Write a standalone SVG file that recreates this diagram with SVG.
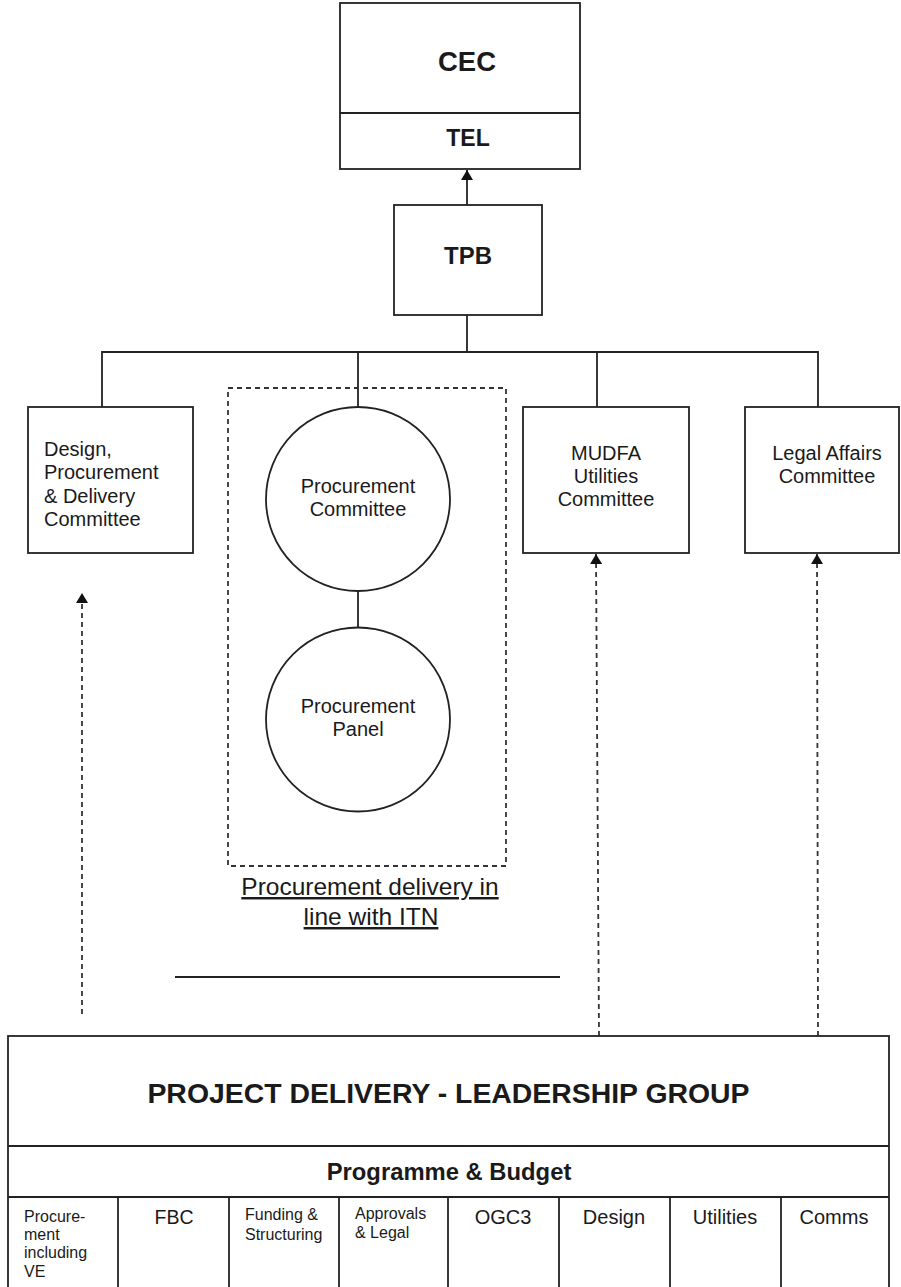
<svg xmlns="http://www.w3.org/2000/svg" width="901" height="1287" viewBox="0 0 901 1287">
<style>
.box{fill:#fff;stroke:#222;stroke-width:1.8}
.ln{stroke:#222;stroke-width:1.8;fill:none}
.dash{stroke:#333;stroke-width:1.8;fill:none;stroke-dasharray:5 4}
.t{font-family:"Liberation Sans",Arial,sans-serif;fill:#1a1a1a}
.b{font-weight:bold}
.c{text-anchor:middle}
</style>
<defs>
<marker id="ah" viewBox="0 0 10 12" refX="10" refY="6" markerWidth="10" markerHeight="12" markerUnits="userSpaceOnUse" orient="auto">
<path d="M0,0 L10,6 L0,12 Z" fill="#111"/>
</marker>
</defs>
<rect width="901" height="1287" fill="#fff"/>

<g id="connectors">
<line class="ln" x1="467" y1="315" x2="467" y2="170" marker-end="url(#ah)"/>
<line class="ln" x1="467" y1="315" x2="467" y2="352"/>
<polyline class="ln" points="102,407 102,352 818,352 818,407"/>
<line class="ln" x1="358" y1="352" x2="358" y2="407"/>
<line class="ln" x1="597" y1="352" x2="597" y2="407"/>
<line class="ln" x1="358" y1="591" x2="358" y2="627"/>
<line class="dash" x1="82" y1="1014" x2="82" y2="593" marker-end="url(#ah)"/>
<line class="dash" x1="599" y1="1036" x2="596" y2="554" marker-end="url(#ah)"/>
<line class="dash" x1="818" y1="1036" x2="817" y2="554" marker-end="url(#ah)"/>
<line class="ln" x1="175" y1="977" x2="560" y2="977"/>
</g>

<g id="cec-tel">
<rect class="box" x="340" y="3" width="240" height="166"/>
<line class="ln" x1="340" y1="113" x2="580" y2="113"/>
<text class="t b c" x="467" y="71" font-size="27.5">CEC</text>
<text class="t b c" x="468" y="146" font-size="23">TEL</text>
</g>

<g id="tpb">
<rect class="box" x="394" y="205" width="148" height="110"/>
<text class="t b c" x="468" y="264" font-size="24">TPB</text>
</g>

<g id="design-committee">
<rect class="box" x="28" y="407" width="165" height="146"/>
<text class="t" x="44" y="456" font-size="20">Design,</text>
<text class="t" x="44" y="479" font-size="20">Procurement</text>
<text class="t" x="44" y="503" font-size="20">&amp; Delivery</text>
<text class="t" x="44" y="526" font-size="20">Committee</text>
</g>

<g id="procurement-group">
<rect class="dash" x="228" y="388" width="278" height="478" stroke-dasharray="4 3"/>
</g>

<g id="procurement-committee">
<circle class="box" cx="358" cy="499" r="92"/>
<text class="t c" x="358" y="493" font-size="20">Procurement</text>
<text class="t c" x="358" y="516" font-size="20">Committee</text>
</g>

<g id="procurement-panel">
<circle class="box" cx="358" cy="719.5" r="92"/>
<text class="t c" x="358" y="713" font-size="20">Procurement</text>
<text class="t c" x="358" y="736" font-size="20">Panel</text>
</g>

<g id="procurement-label">
<text class="t c" x="370" y="895" font-size="24.5" text-decoration="underline">Procurement delivery in</text>
<text class="t c" x="371" y="925" font-size="24.5" text-decoration="underline">line with ITN</text>
</g>

<g id="mudfa">
<rect class="box" x="523" y="407" width="166" height="146"/>
<text class="t c" x="606" y="460" font-size="20">MUDFA</text>
<text class="t c" x="606" y="483" font-size="20">Utilities</text>
<text class="t c" x="606" y="506" font-size="20">Committee</text>
</g>

<g id="legal">
<rect class="box" x="745" y="407" width="154" height="146"/>
<text class="t c" x="827" y="460" font-size="20">Legal Affairs</text>
<text class="t c" x="827" y="483" font-size="20">Committee</text>
</g>

<g id="leadership-group">
<rect class="box" x="8" y="1036" width="881" height="260"/>
<line class="ln" x1="8" y1="1146" x2="889" y2="1146"/>
<line class="ln" x1="8" y1="1197" x2="889" y2="1197"/>
<text class="t b c" x="448.5" y="1103" font-size="28.4">PROJECT DELIVERY - LEADERSHIP GROUP</text>
<text class="t b c" x="449" y="1180" font-size="23.8">Programme &amp; Budget</text>
<g class="ln">
<line x1="118" y1="1197" x2="118" y2="1287"/>
<line x1="229" y1="1197" x2="229" y2="1287"/>
<line x1="339" y1="1197" x2="339" y2="1287"/>
<line x1="448" y1="1197" x2="448" y2="1287"/>
<line x1="559" y1="1197" x2="559" y2="1287"/>
<line x1="670" y1="1197" x2="670" y2="1287"/>
<line x1="781" y1="1197" x2="781" y2="1287"/>
</g>
<text class="t" x="24" y="1222" font-size="16">Procure-</text>
<text class="t" x="24" y="1240" font-size="16">ment</text>
<text class="t" x="24" y="1258" font-size="16">including</text>
<text class="t" x="24" y="1277" font-size="16">VE</text>
<text class="t c" x="174" y="1224" font-size="19.5">FBC</text>
<text class="t" x="245" y="1220" font-size="16">Funding &amp;</text>
<text class="t" x="245" y="1240" font-size="16">Structuring</text>
<text class="t" x="355" y="1219" font-size="16">Approvals</text>
<text class="t" x="355" y="1238" font-size="16">&amp; Legal</text>
<text class="t c" x="503" y="1224" font-size="20">OGC3</text>
<text class="t c" x="614" y="1224" font-size="20">Design</text>
<text class="t c" x="725" y="1224" font-size="20">Utilities</text>
<text class="t c" x="834" y="1224" font-size="20">Comms</text>
</g>
</svg>
